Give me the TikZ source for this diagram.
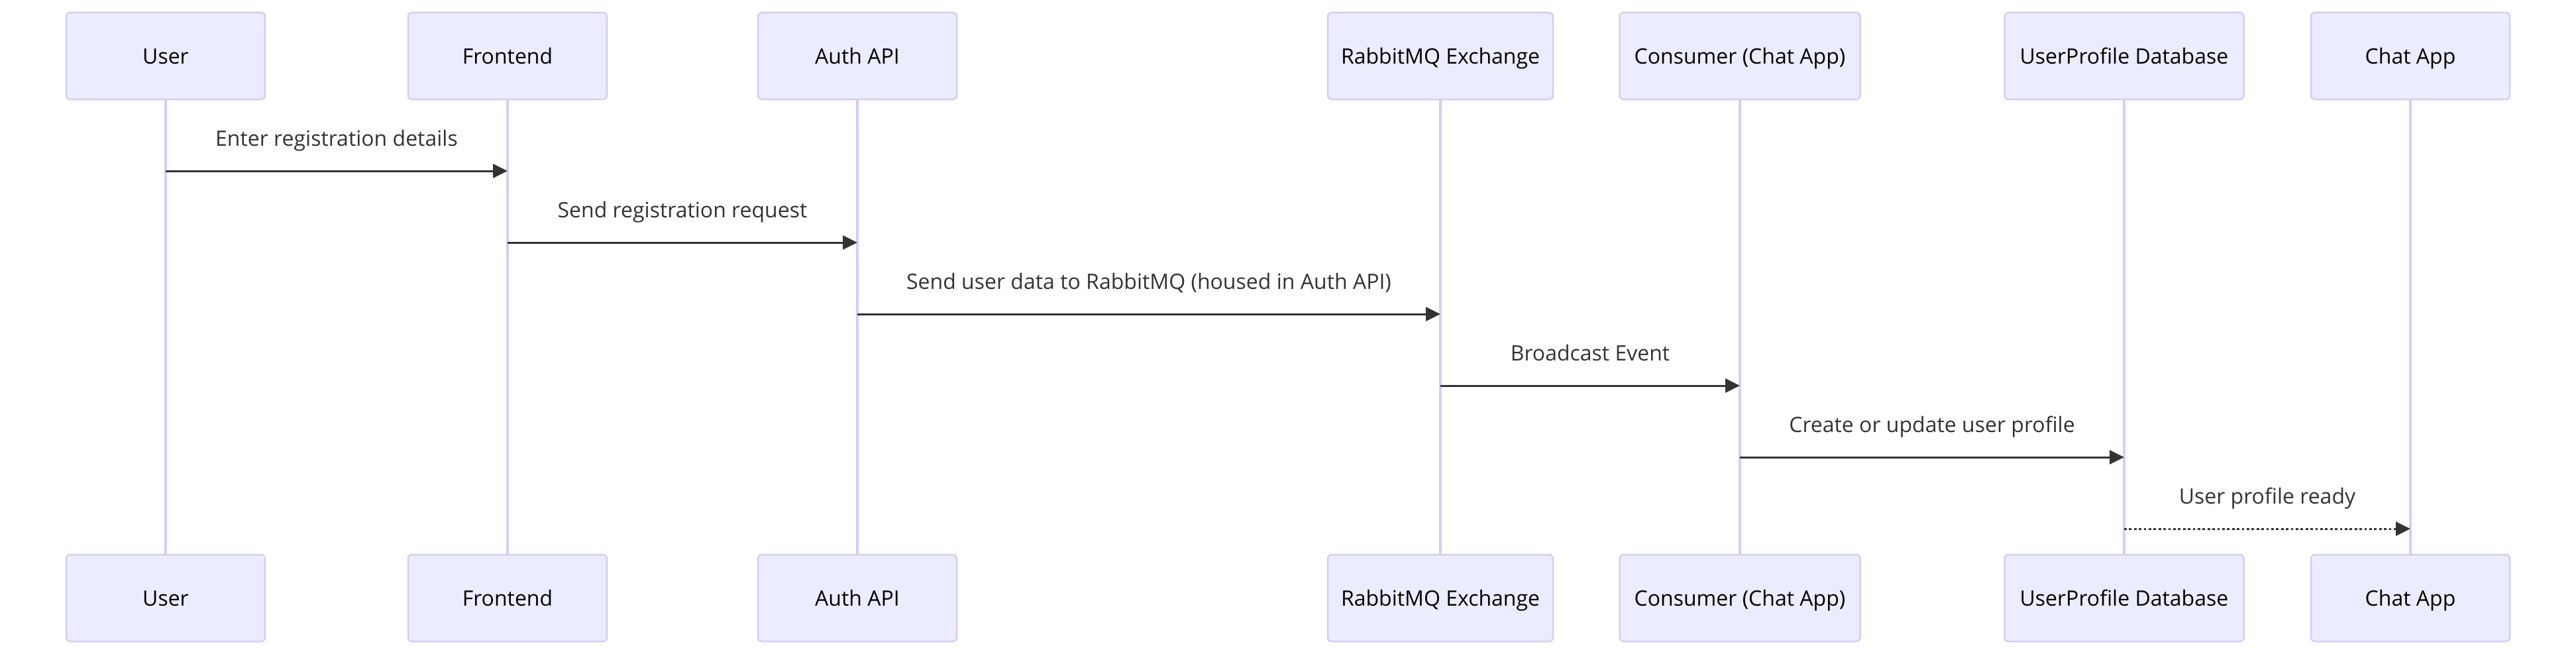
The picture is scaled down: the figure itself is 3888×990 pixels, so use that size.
\documentclass[tikz,border=0pt]{standalone}
\usepackage{fontspec}
\setmainfont{Open Sans}
\usetikzlibrary{arrows.meta}
\definecolor{actfill}{HTML}{ECECFF}
\definecolor{actline}{HTML}{D7CCF3}
\definecolor{msgcol}{HTML}{333333}
\tikzset{
  actor/.style={draw=actline, fill=actfill, line width=2.5pt, rounded corners=6pt,
    minimum height=131pt, inner sep=0pt, text height=23pt, text depth=0pt,
    font=\fontsize{32}{38}\selectfont, text=black},
  lifeline/.style={draw=actline, line width=3.5pt},
  msg/.style={draw=msgcol, line width=3pt, -{Triangle[length=22pt,width=21pt]}},
  msgdot/.style={msg, dash pattern=on 3.7pt off 3.7pt},
  msglabel/.style={font=\fontsize{32}{38}\selectfont, text=msgcol, inner sep=0pt,
    anchor=base, yshift=37.5pt}
}
\begin{document}
\begin{tikzpicture}[x=1pt,y=-1pt]
\useasboundingbox (0,0) rectangle (3888,990);
% actors top
\node[actor, minimum width=300pt] (userT) at (250,84.5) {User};
\node[actor, minimum width=300pt] (frontT) at (766,84.5) {Frontend};
\node[actor, minimum width=300pt] (authT) at (1294,84.5) {Auth API};
\node[actor, minimum width=340pt] (rabbitT) at (2174,84.5) {RabbitMQ Exchange};
\node[actor, minimum width=363pt] (consT) at (2626,84.5) {Consumer (Chat App)};
\node[actor, minimum width=361pt] (dbT) at (3206,84.5) {UserProfile Database};
\node[actor, minimum width=300pt] (chatT) at (3638,84.5) {Chat App};
% actors bottom
\node[actor, minimum width=300pt] (userB) at (250,902.5) {User};
\node[actor, minimum width=300pt] (frontB) at (766,902.5) {Frontend};
\node[actor, minimum width=300pt] (authB) at (1294,902.5) {Auth API};
\node[actor, minimum width=340pt] (rabbitB) at (2174,902.5) {RabbitMQ Exchange};
\node[actor, minimum width=363pt] (consB) at (2626,902.5) {Consumer (Chat App)};
\node[actor, minimum width=361pt] (dbB) at (3206,902.5) {UserProfile Database};
\node[actor, minimum width=300pt] (chatB) at (3638,902.5) {Chat App};
% lifelines
\draw[lifeline] (userT.south) -- (userB.north);
\draw[lifeline] (frontT.south) -- (frontB.north);
\draw[lifeline] (authT.south) -- (authB.north);
\draw[lifeline] (rabbitT.south) -- (rabbitB.north);
\draw[lifeline] (consT.south) -- (consB.north);
\draw[lifeline] (dbT.south) -- (dbB.north);
\draw[lifeline] (chatT.south) -- (chatB.north);
% message rows
\coordinate (m1) at (0,258);
\coordinate (m2) at (0,366);
\coordinate (m3) at (0,474);
\coordinate (m4) at (0,582);
\coordinate (m5) at (0,690);
\coordinate (m6) at (0,798);
\draw[msg] (userT |- m1) -- node[msglabel] (l1) {Enter registration details} (frontT |- m1);
\draw[msg] (frontT |- m2) -- node[msglabel] (l2) {Send registration request} (authT |- m2);
\draw[msg] (authT |- m3) -- node[msglabel] (l3) {Send user data to RabbitMQ (housed in Auth API)} (rabbitT |- m3);
\draw[msg] (rabbitT |- m4) -- node[msglabel] (l4) {Broadcast Event} (consT |- m4);
\draw[msg] (consT |- m5) -- node[msglabel] (l5) {Create or update user profile} (dbT |- m5);
\draw[msgdot] (dbT |- m6) -- node[msglabel] (l6) {User profile ready} (chatT |- m6);
\end{tikzpicture}
\end{document}
